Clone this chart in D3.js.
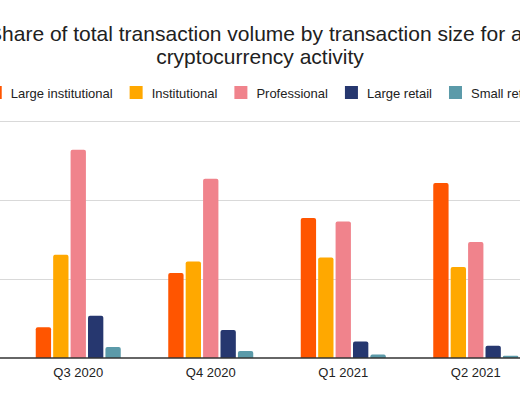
<!DOCTYPE html>
<html>
<head>
<meta charset="utf-8">
<script src="https://cdn.jsdelivr.net/npm/d3@7"></script>
<style>
  html, body { margin: 0; padding: 0; background: #fff; overflow: hidden; }
  svg { display: block; font-family: "Liberation Sans", Arial, sans-serif; }
</style>
</head>
<body>
<svg id="chart" width="520" height="400"></svg>
<script>
// data, share of total volume in %
const quarters = ["Q3 2020", "Q4 2020", "Q1 2021", "Q2 2021"]
const seriesNames = ["Large institutional", "Institutional", "Professional", "Large retail", "Small retail"]
const largeInstitutional = [7.8, 21.5, 35.4, 44.2]
const institutional = [26.1, 24.4, 25.4, 23.0]
const professional = [52.6, 45.3, 34.5, 29.3]
const largeRetail = [10.7, 7.1, 4.2, 3.1]
const smallRetail = [2.8, 1.8, 0.9, 0.6]
const yTicks = [0, 20, 40, 60]

const seriesValues = [largeInstitutional, institutional, professional, largeRetail, smallRetail]
const colors = ["#ff5500", "#ffa800", "#f0838c", "#26376f", "#5b9aa9"]

const svg = d3.select("#chart")
const centerX = 260

// title (wider than the window, so it gets cut at both sides like the reference)
const title = svg.append("text")
  .attr("text-anchor", "middle")
  .attr("font-size", 21)
  .attr("fill", "#212121")
title.append("tspan").attr("x", centerX).attr("y", 41)
  .text("Share of total transaction volume by transaction size for all")
title.append("tspan").attr("x", centerX).attr("y", 64)
  .text("cryptocurrency activity")

// legend, laid out from measured text widths then centered
const legend = svg.append("g")
const items = legend.selectAll("g").data(seriesNames).join("g")
items.append("rect")
  .attr("width", 13).attr("height", 13)
  .attr("y", 86)
  .attr("fill", (d, i) => colors[i])
items.append("text")
  .attr("x", 22).attr("y", 98)
  .attr("font-size", 13)
  .attr("fill", "#222")
  .text(d => d)

let offset = 0
items.each(function () {
  const w = d3.select(this).select("text").node().getComputedTextLength()
  d3.select(this).attr("transform", `translate(${offset},0)`)
  offset += 22 + w + 17
})
const legendWidth = offset - 17
legend.attr("transform", `translate(${centerX + 2 - legendWidth / 2},0)`)

// scales
const x = d3.scaleBand().domain(quarters).range([12, 542])
const groupWidth = 85
const xInner = d3.scaleBand().domain(seriesNames).range([0, groupWidth]).paddingInner(0.12)
const y = d3.scaleLinear().domain([0, 60]).range([358, 120.5])

// gridlines
svg.append("g")
  .selectAll("line")
  .data(yTicks.filter(t => t > 0))
  .join("line")
  .attr("x1", -80).attr("x2", 600)
  .attr("y1", d => Math.round(y(d)) + 0.5)
  .attr("y2", d => Math.round(y(d)) + 0.5)
  .attr("stroke", "#d9d9d9")
  .attr("stroke-width", 1.2)

// bars with slightly rounded tops
const r = 2
function barPath(x0, w, top, bottom) {
  const h = bottom - top
  const rr = Math.min(r, h / 2, w / 2)
  return `M${x0},${bottom}V${top + rr}Q${x0},${top} ${x0 + rr},${top}` +
    `H${x0 + w - rr}Q${x0 + w},${top} ${x0 + w},${top + rr}V${bottom}Z`
}

const groups = svg.append("g")
  .selectAll("g")
  .data(quarters)
  .join("g")
  .attr("transform", d => `translate(${x(d) + x.bandwidth() / 2 - groupWidth / 2},0)`)

groups.selectAll("path")
  .data((q, qi) => seriesNames.map((s, si) => ({ s, v: seriesValues[si][qi], c: colors[si] })))
  .join("path")
  .attr("d", d => barPath(xInner(d.s), xInner.bandwidth(), y(d.v), y(0)))
  .attr("fill", d => d.c)

// baseline
svg.append("line")
  .attr("x1", -80).attr("x2", 600)
  .attr("y1", y(0)).attr("y2", y(0))
  .attr("stroke", "#333")
  .attr("stroke-width", 1.4)

// x axis labels
const xAxis = svg.append("g")
  .attr("transform", `translate(0,${y(0)})`)
  .call(d3.axisBottom(x).tickSize(0).tickPadding(10))
xAxis.select(".domain").remove()
xAxis.selectAll("text")
  .attr("font-size", 13)
  .attr("font-family", "Liberation Sans, Arial, sans-serif")
  .attr("fill", "#222")
</script>
</body>
</html>
